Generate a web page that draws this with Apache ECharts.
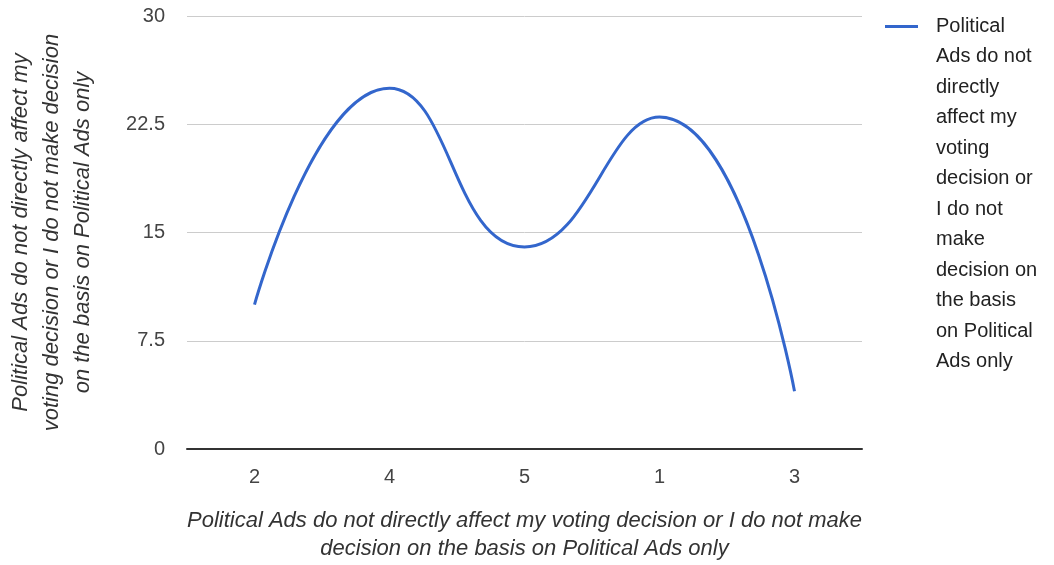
<!DOCTYPE html>
<html>
<head>
<meta charset="utf-8">
<script src="https://cdn.jsdelivr.net/npm/echarts@6/dist/echarts.min.js"></script>
<style>
  html, body { margin: 0; padding: 0; background: #fff; }
  #chart { width: 1054px; height: 565px; }
</style>
</head>
<body>
<div id="chart"></div>
<script>
// Survey responses, in the order the answers appear along the axis
const categories = ['2', '4', '5', '1', '3'];
const seriesName = 'Political Ads do not directly affect my voting decision or I do not make decision on the basis on Political Ads only';
const values = [10, 25, 14, 23, 4];
const yTicks = [0, 7.5, 15, 22.5, 30];

const xAxisTitle = 'Political Ads do not directly affect my voting decision or I do not make\ndecision on the basis on Political Ads only';
const yAxisTitle = 'Political Ads do not directly affect my\nvoting decision or I do not make decision\non the basis on Political Ads only';

// Word counts per legend line (the legend column is narrow)
const legendWordsPerLine = [1, 3, 1, 2, 1, 2, 3, 1, 2, 2, 2, 2];

const font = '"Liberation Sans", Arial, sans-serif';
const legendLineHeight = 30.5;
const legendBlockHeight = legendWordsPerLine.length * legendLineHeight;

function wrapLegend(name) {
  const words = name.split(' ');
  const lines = [];
  let i = 0;
  for (const n of legendWordsPerLine) {
    lines.push(words.slice(i, i + n).join(' '));
    i += n;
  }
  if (i < words.length) lines.push(words.slice(i).join(' '));
  return lines.join('\n');
}

// Legend swatch: a short line at the height of the first text line,
// with invisible corner points so the path spans the whole text block.
const H = legendBlockHeight;
const legendIcon = 'path://M0,14H33V17H0Z M0,0H0.01V0.01H0Z M46,' + H + 'H46.01V' + (H + 0.01) + 'H46Z';

const chart = echarts.init(document.getElementById('chart'), null, { renderer: 'canvas' });
chart.setOption({
  animation: false,
  grid: { left: 187, right: 192, top: 16, bottom: 116, containLabel: false, outerBoundsMode: 'none' },
  legend: {
    orient: 'vertical',
    left: 885,
    top: 11,
    padding: 0,
    itemWidth: 46,
    itemHeight: H,
    itemGap: 0,
    icon: legendIcon,
    symbolKeepAspect: false,
    formatter: wrapLegend,
    textStyle: {
      fontFamily: font,
      fontSize: 20,
      color: '#222',
      lineHeight: legendLineHeight
    },
    data: [seriesName]
  },
  xAxis: {
    type: 'category',
    data: categories,
    boundaryGap: true,
    axisTick: { show: false },
    axisLine: { lineStyle: { color: '#333', width: 2 } },
    axisLabel: { fontFamily: font, fontSize: 20, color: '#444', margin: 18 },
    name: xAxisTitle,
    nameLocation: 'middle',
    nameGap: 58,
    nameTextStyle: {
      fontFamily: font, fontSize: 22, fontStyle: 'italic', color: '#333', lineHeight: 28
    }
  },
  yAxis: {
    type: 'value',
    min: 0,
    max: 30,
    interval: 7.5,
    axisLine: { show: false },
    axisTick: { show: false },
    splitLine: { lineStyle: { color: '#ccc', width: 1 } },
    axisLabel: {
      fontFamily: font, fontSize: 20, color: '#444', margin: 22,
      formatter: v => (yTicks.includes(v) ? String(v) : '')
    },
    name: yAxisTitle,
    nameLocation: 'middle',
    nameGap: 89,
    nameRotate: 90,
    nameTextStyle: {
      fontFamily: font, fontSize: 22, fontStyle: 'italic', color: '#333', lineHeight: 31
    }
  },
  series: [{
    name: seriesName,
    type: 'line',
    data: values,
    smooth: 0.5,
    showSymbol: false,
    symbol: 'none',
    lineStyle: { color: '#3366cc', width: 3 },
    itemStyle: { color: '#3366cc' }
  }]
});
</script>
</body>
</html>
